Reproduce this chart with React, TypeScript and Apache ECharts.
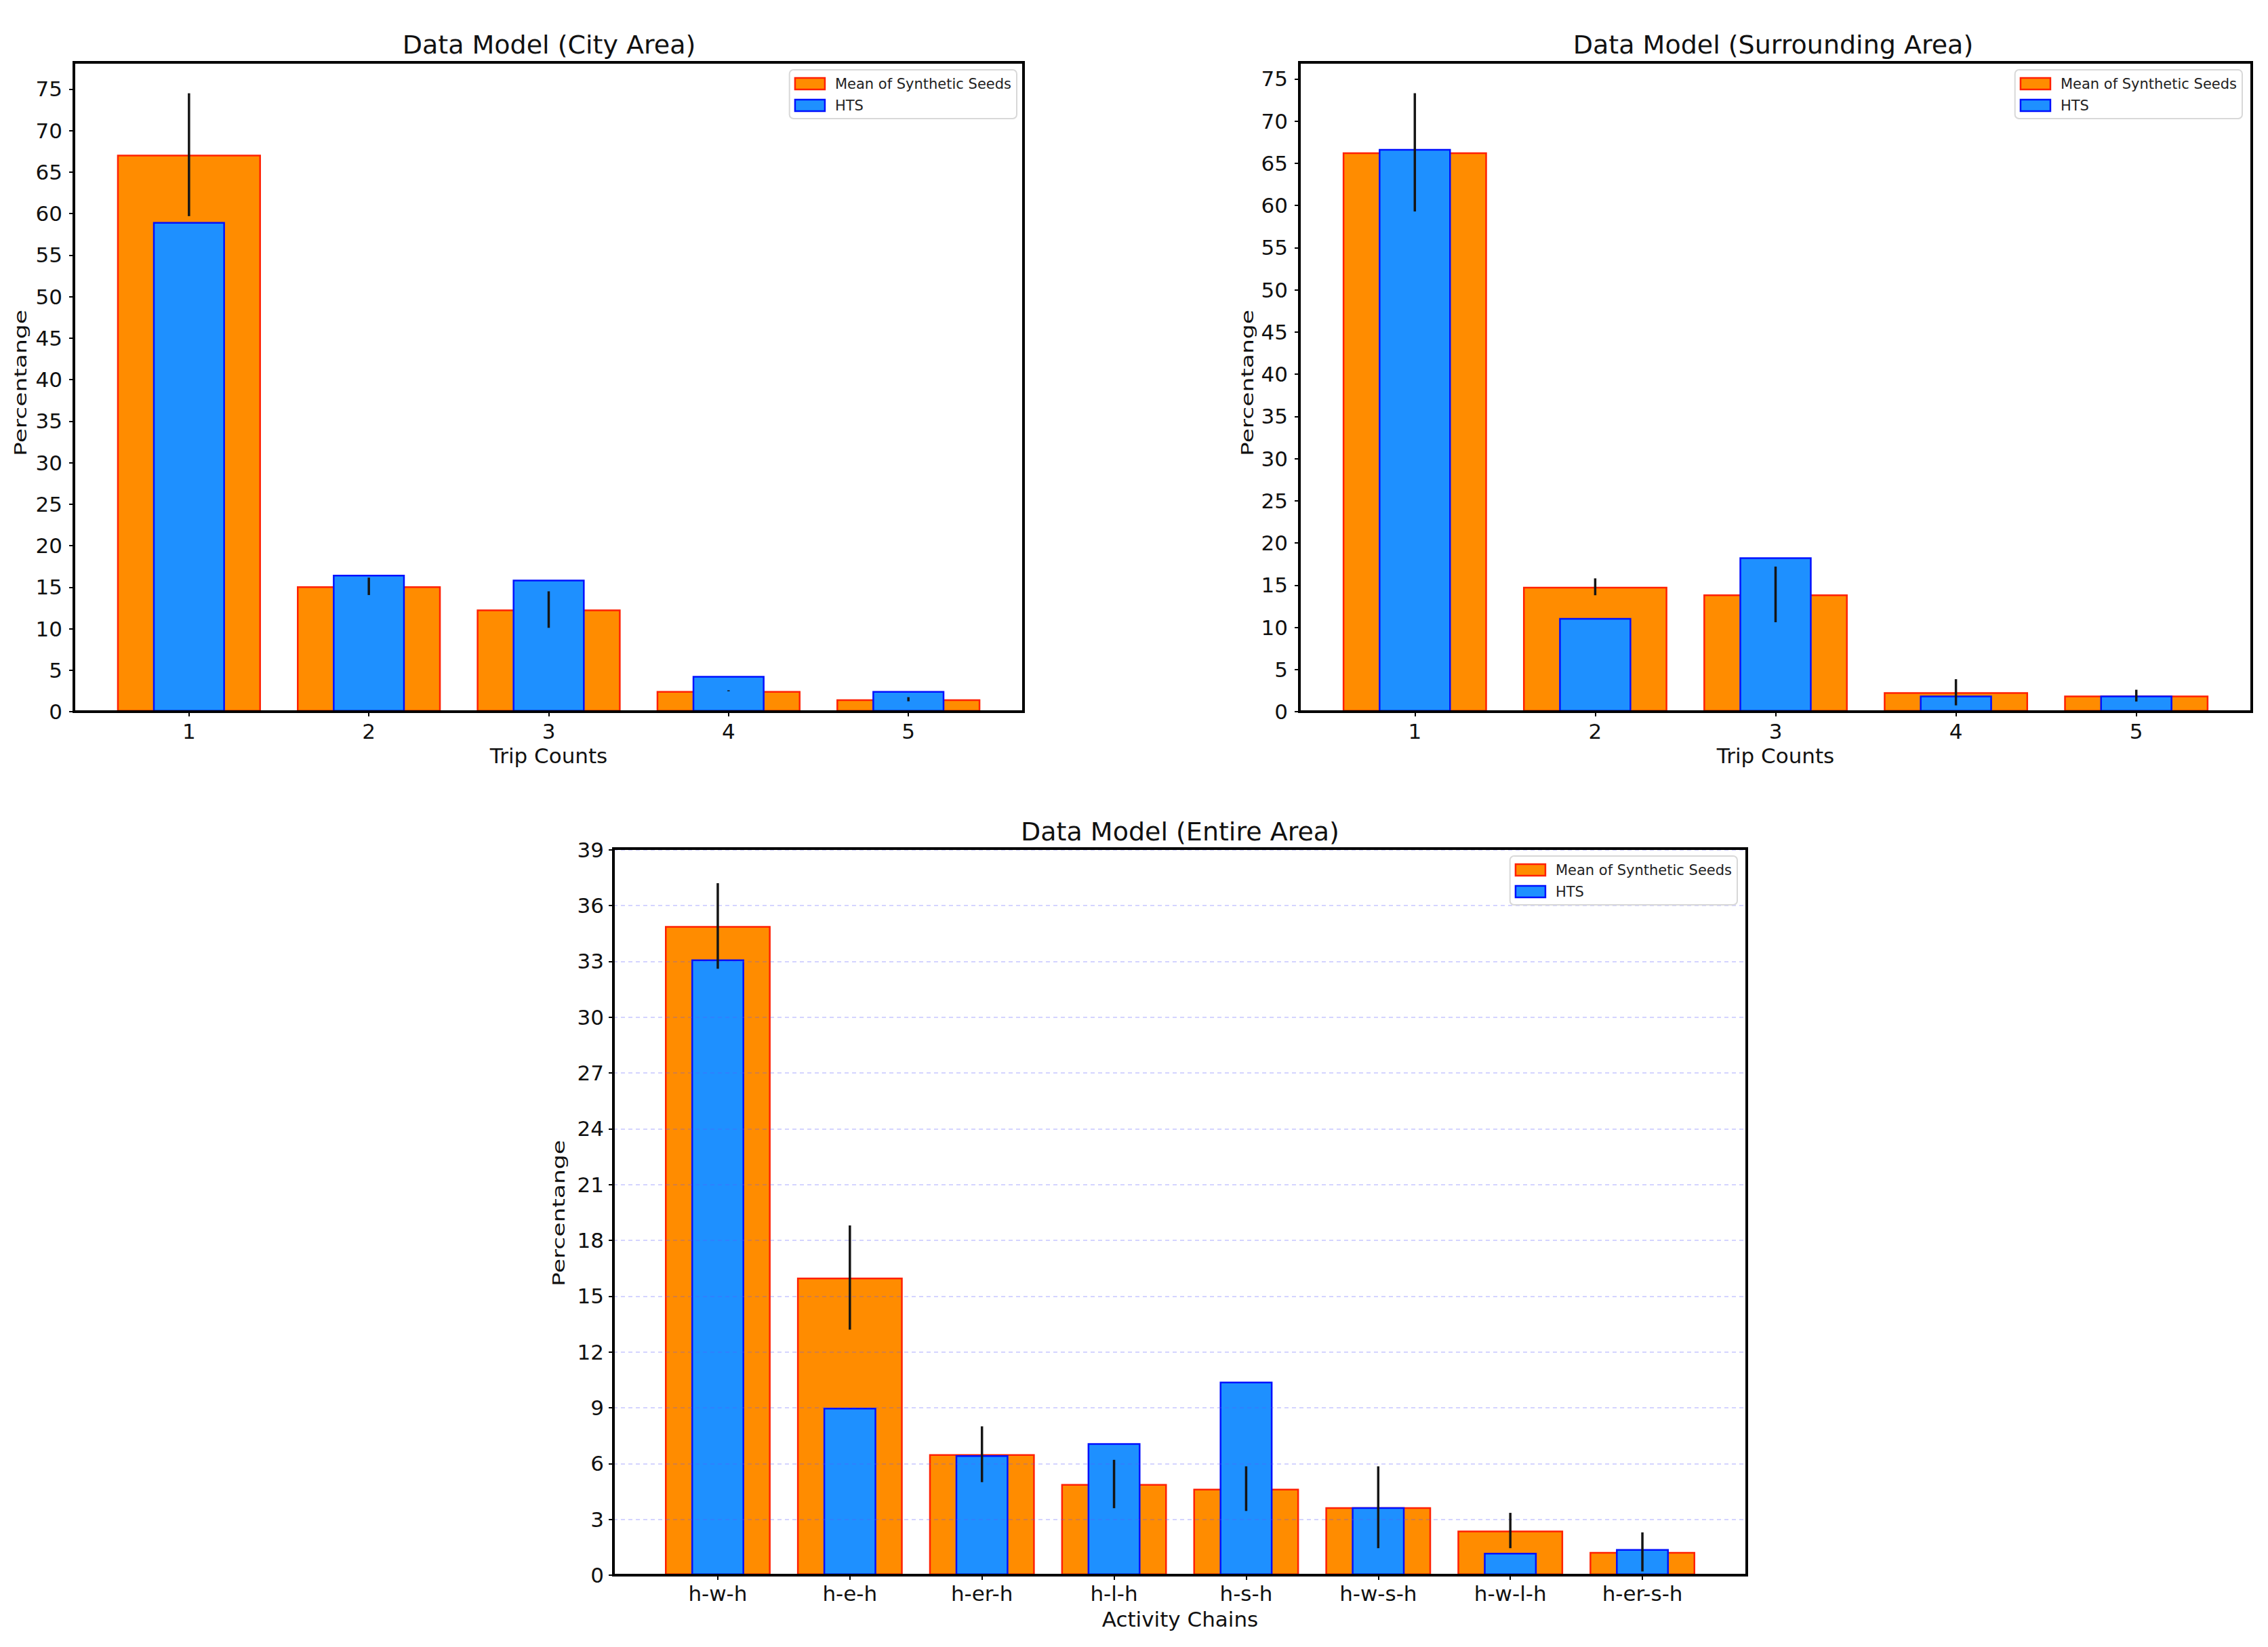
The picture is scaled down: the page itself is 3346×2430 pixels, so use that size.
import React, { useEffect, useRef } from 'react';
import * as echarts from 'echarts';

// ---------- data ----------
const tripCounts = ['1', '2', '3', '4', '5'];
const cityMean = [67.1, 15.1, 12.3, 2.5, 1.5];
const cityHts = [59.0, 16.5, 15.9, 4.3, 2.5];
const cityErr = [7.4, 1.05, 2.2, 0.05, 0.25];

const surroundMean = [66.3, 14.8, 13.9, 2.3, 1.9];
const surroundHts = [66.7, 11.1, 18.3, 1.9, 1.9];
const surroundErr = [7.0, 1.0, 3.3, 1.55, 0.7];

const chains = ['h-w-h', 'h-e-h', 'h-er-h', 'h-l-h', 'h-s-h', 'h-w-s-h', 'h-w-l-h', 'h-er-s-h'];
const entireMean = [34.9, 16.0, 6.5, 4.9, 4.65, 3.65, 2.4, 1.25];
const entireHts = [33.1, 9.0, 6.45, 7.1, 10.4, 3.65, 1.2, 1.4];
const entireErr = [2.3, 2.8, 1.5, 1.3, 1.2, 2.2, 0.95, 1.05];

const tripTicks = [0, 5, 10, 15, 20, 25, 30, 35, 40, 45, 50, 55, 60, 65, 70, 75];
const chainTicks = [0, 3, 6, 9, 12, 15, 18, 21, 24, 27, 30, 33, 36, 39];

const seedName = 'Mean of Synthetic Seeds';
const htsName = 'HTS';

// ---------- style ----------
const FONT = '"DejaVu Sans", "Liberation Sans", sans-serif';
const ORANGE = '#ff8c00';
const RED = '#ff2000';
const BLUE = '#1e90ff';
const DBLUE = '#0010ff';
const INK = '#111111';

type Panel = {
  title: string;
  cats: string[];
  mean: number[];
  hts: number[];
  err: number[];
  yTicks: number[];
  yInterval: number;
  xName: string;
  rect: { left: number; top: number; width: number; height: number };
  grid: boolean;
  titlePos: [number, number];
  yNamePos: [number, number];
  legendRight: number;
  labelMargin: number;
  yLabelMargin: number;
  nameGap: number;
};

const panels: Panel[] = [
  {
    title: 'Data Model (City Area)', cats: tripCounts, mean: cityMean, hts: cityHts, err: cityErr,
    yTicks: tripTicks, yInterval: 5, xName: 'Trip Counts',
    rect: { left: 109, top: 92, width: 1401, height: 958 }, grid: false,
    titlePos: [810, 66], yNamePos: [30, 565], legendRight: 3346 - 1500,
    labelMargin: 13, yLabelMargin: 17, nameGap: 49,
  },
  {
    title: 'Data Model (Surrounding Area)', cats: tripCounts, mean: surroundMean, hts: surroundHts, err: surroundErr,
    yTicks: tripTicks, yInterval: 5, xName: 'Trip Counts',
    rect: { left: 1917, top: 92, width: 1405, height: 958 }, grid: false,
    titlePos: [2616, 66], yNamePos: [1840, 565], legendRight: 3346 - 3308,
    labelMargin: 13, yLabelMargin: 17, nameGap: 49,
  },
  {
    title: 'Data Model (Entire Area)', cats: chains, mean: entireMean, hts: entireHts, err: entireErr,
    yTicks: chainTicks, yInterval: 3, xName: 'Activity Chains',
    rect: { left: 905, top: 1252, width: 1672, height: 1072 }, grid: true,
    titlePos: [1741, 1227], yNamePos: [824, 1790], legendRight: 3346 - 2563,
    labelMargin: 11, yLabelMargin: 14, nameGap: 49,
  },
];

function buildOption() {
  const grid: any[] = [];
  const xAxis: any[] = [];
  const yAxis: any[] = [];
  const series: any[] = [];
  const legend: any[] = [];
  const graphic: any[] = [];

  panels.forEach((p, i) => {
    const n = p.cats.length;
    const span = n - 1 + 0.8; // bars occupy [1-0.4, n+0.4]
    const xMin = 1 - 0.4 - span * 0.05;
    const xMax = n + 0.4 + span * 0.05;
    const pos = p.cats.map((_, k) => k + 1);
    const yMax = Math.max(...p.mean.map((m, k) => m + p.err[k]), ...p.hts) * 1.05;

    grid.push({
      ...p.rect,
      show: true,
      borderColor: '#000',
      borderWidth: 4,
      backgroundColor: 'transparent',
      z: 10,
    });

    xAxis.push({
      type: 'value',
      gridIndex: i,
      min: xMin,
      max: xMax,
      axisLine: { show: false },
      splitLine: { show: false },
      axisTick: { show: true, length: 7, customValues: pos, lineStyle: { color: '#000', width: 2 } },
      axisLabel: {
        customValues: pos,
        formatter: (v: number) => p.cats[Math.round(v) - 1] ?? '',
        fontSize: 31,
        fontFamily: FONT,
        color: INK,
        margin: p.labelMargin,
      },
      name: p.xName,
      nameLocation: 'middle',
      nameGap: p.nameGap,
      nameTextStyle: { fontSize: 31, fontFamily: FONT, color: INK },
    });
    xAxis.push({ type: 'value', gridIndex: i, min: xMin, max: xMax, show: false });

    yAxis.push({
      type: 'value',
      gridIndex: i,
      min: 0,
      max: yMax,
      interval: p.yInterval,
      z: 3,
      axisLine: { show: false },
      axisTick: { show: true, length: 7, customValues: p.yTicks, lineStyle: { color: '#000', width: 2 } },
      axisLabel: {
        customValues: p.yTicks,
        fontSize: 31,
        fontFamily: FONT,
        color: INK,
        margin: p.yLabelMargin,
      },
      splitLine: {
        show: p.grid,
        lineStyle: { color: 'rgba(90,90,255,0.26)', width: 2, type: [6, 5] },
      },
    });

    series.push({
      type: 'bar',
      name: seedName,
      xAxisIndex: 2 * i,
      yAxisIndex: i,
      data: p.mean.map((v, k) => [k + 1, v]),
      barWidth: '80%',
      itemStyle: { color: ORANGE, borderColor: RED, borderWidth: 2.5 },
      z: 1,
      silent: true,
    });
    series.push({
      type: 'bar',
      name: htsName,
      xAxisIndex: 2 * i + 1,
      yAxisIndex: i,
      data: p.hts.map((v, k) => [k + 1, v]),
      barWidth: '40%',
      itemStyle: { color: BLUE, borderColor: DBLUE, borderWidth: 2.5 },
      z: 2,
      silent: true,
    });
    series.push({
      type: 'custom',
      name: 'err' + i,
      xAxisIndex: 2 * i,
      yAxisIndex: i,
      data: p.mean.map((v, k) => [k + 1, v - p.err[k], v + p.err[k]]),
      encode: { x: 0, y: [1, 2] },
      z: 6,
      silent: true,
      renderItem: (_params: any, api: any) => {
        const lo = api.coord([api.value(0), api.value(1)]);
        const hi = api.coord([api.value(0), api.value(2)]);
        return {
          type: 'line',
          shape: { x1: lo[0], y1: lo[1], x2: hi[0], y2: Math.min(hi[1], lo[1] - 1.5) },
          style: { stroke: '#151515', lineWidth: 3.5 },
        };
      },
    });

    legend.push({
      orient: 'vertical',
      right: p.legendRight,
      top: p.rect.top + 11,
      icon: 'rect',
      itemWidth: 44,
      itemHeight: 17,
      itemGap: 11,
      padding: [10, 8, 9, 7],
      borderColor: '#d8d8d8',
      borderWidth: 2,
      borderRadius: 6,
      backgroundColor: 'rgba(255,255,255,0.85)',
      selectedMode: false,
      textStyle: { fontSize: 21, fontFamily: FONT, color: '#222', padding: [0, 0, 0, 10], lineHeight: 21 },
      data: [
        { name: seedName, itemStyle: { color: ORANGE, borderColor: RED, borderWidth: 2.5 } },
        { name: htsName, itemStyle: { color: BLUE, borderColor: DBLUE, borderWidth: 2.5 } },
      ],
      z: 12,
    });

    graphic.push({
      type: 'text',
      x: p.titlePos[0],
      y: p.titlePos[1],
      style: { text: p.title, fontSize: 38, fontFamily: FONT, fill: INK, align: 'center', verticalAlign: 'middle' },
    });
    graphic.push({
      type: 'text',
      x: p.yNamePos[0],
      y: p.yNamePos[1],
      rotation: Math.PI / 2,
      scaleX: 1.38,
      style: { text: 'Percentange', fontSize: 25, fontFamily: FONT, fill: INK, align: 'center', verticalAlign: 'middle' },
    });
  });

  return {
    animation: false,
    backgroundColor: '#ffffff',
    grid,
    xAxis,
    yAxis,
    series,
    legend,
    graphic,
  };
}

export default function App() {
  const ref = useRef<HTMLDivElement>(null);
  useEffect(() => {
    if (!ref.current) return;
    const chart = echarts.init(ref.current, undefined, { renderer: 'svg' });
    chart.setOption(buildOption() as any);
    return () => chart.dispose();
  }, []);
  return (
    <div
      ref={ref}
      style={{ position: 'absolute', left: 0, top: 0, width: 3346, height: 2430, background: '#fff' }}
    />
  );
}
